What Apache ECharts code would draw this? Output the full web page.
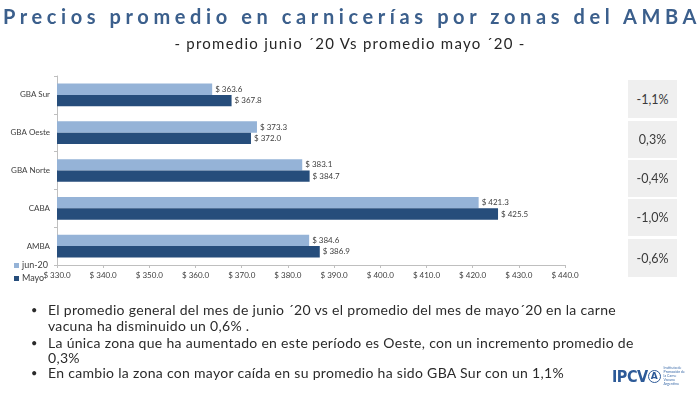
<!DOCTYPE html>
<html><head><meta charset="utf-8">
<script src="https://cdn.jsdelivr.net/npm/echarts@6/dist/echarts.min.js"></script>
<style>
html,body{margin:0;padding:0;background:#fff;}
#wrap{position:relative;width:700px;height:393px;overflow:hidden;font-family:Lato,"Open Sans",sans-serif;}
#chart{position:absolute;left:0;top:0;width:700px;height:393px;}
.t{position:absolute;white-space:nowrap;}
#title{left:2px;width:700px;top:4px;text-align:center;font-size:20px;font-weight:bold;color:#3b5f8c;letter-spacing:4.6px;}
#sub{left:0;width:700px;top:34px;text-align:center;font-size:15px;color:#262626;letter-spacing:1.25px;}
.box{position:absolute;left:628px;width:49px;background:#efefef;color:#3a3a3a;font-size:12.5px;display:flex;align-items:center;justify-content:center;}
.bl{position:absolute;left:48px;font-size:14px;color:#2b2b2b;letter-spacing:0.3px;line-height:16px;}
.dot{position:absolute;left:31px;font-size:11px;color:#2b2b2b;}
#logo{position:absolute;left:612px;top:368px;height:16px;display:flex;align-items:center;}
</style></head>
<body><div id="wrap">
<div id="chart"></div>
<div id="title" class="t"></div>
<div id="sub" class="t"></div>
<div id="boxes"></div>
<div id="bullets"></div>
<div id="logo"><span style="font-family:'Liberation Sans Narrow','DejaVu Sans Condensed',sans-serif;font-weight:bold;font-size:16px;color:#2d5a98;letter-spacing:-0.5px;">IPCV</span><span style="display:inline-block;width:11px;height:11px;border:1.5px solid #2d5a98;border-radius:50%;color:#2d5a98;font-size:9px;font-weight:bold;line-height:11px;text-align:center;margin-left:0px;font-family:'DejaVu Sans',sans-serif;">A</span><span style="font-size:3.5px;color:#3a6aa8;line-height:4px;margin-left:3px;width:24px;white-space:normal;">Instituto de Promoción de la Carne Vacuna Argentina</span></div>
</div>
<script>
const titleText = "Precios promedio en carnicerías por zonas del AMBA";
const subtitleText = "- promedio junio ´20 Vs promedio mayo ´20 -";
const categories = ["AMBA", "CABA", "GBA Norte", "GBA Oeste", "GBA Sur"];
const seriesNames = ["jun-20", "Mayo"];
const jun20 = [384.6, 421.3, 383.1, 373.3, 363.6];
const mayo = [386.9, 425.5, 384.7, 372.0, 367.8];
const changes = ["-1,1%", "0,3%", "-0,4%", "-1,0%", "-0,6%"]; // top to bottom: GBA Sur ... AMBA
const bullets = [
  ["El promedio general del mes de junio ´20 vs el promedio del mes de mayo´20 en la carne", true],
  ["vacuna ha  disminuido un 0,6% .", false],
  ["La única zona que ha aumentado en este período es Oeste, con un incremento promedio de", true],
  ["0,3%", false],
  ["En cambio la zona con mayor caída en su promedio ha sido GBA Sur con un 1,1%", true]
];

document.getElementById('title').textContent = titleText;
document.getElementById('sub').textContent = subtitleText;

const boxTops = [80, 121, 160, 199, 239];
const boxH = [38, 37, 37, 37, 38];
const bx = document.getElementById('boxes');
changes.forEach((c, i) => {
  const d = document.createElement('div');
  d.className = 'box';
  d.style.top = boxTops[i] + 'px';
  d.style.height = boxH[i] + 'px';
  d.textContent = c;
  bx.appendChild(d);
});
const lineY = [302, 318, 335, 350, 365];
const bu = document.getElementById('bullets');
bullets.forEach((b, i) => {
  const d = document.createElement('div');
  d.className = 'bl t';
  d.style.top = lineY[i] + 'px';
  d.textContent = b[0];
  bu.appendChild(d);
  if (b[1]) {
    const s = document.createElement('div');
    s.className = 'dot t';
    s.style.top = (lineY[i] + 1) + 'px';
    s.textContent = '•';
    bu.appendChild(s);
  }
});

const chart = echarts.init(document.getElementById('chart'), null, {renderer: 'canvas'});
const fmt = v => '$ ' + Number(v).toFixed(1);
const lbl = {show: true, position: 'right', distance: 3, fontSize: 8, color: '#404040', fontFamily: 'Lato', formatter: p => fmt(p.value)};
chart.setOption({
  animation: false,
  textStyle: {fontFamily: 'Lato'},
  grid: {left: 57, right: 135, top: 76, bottom: 128, containLabel: false},
  legend: {
    orient: 'vertical', left: 9, top: 256, itemWidth: 5, itemHeight: 5, itemGap: 4,
    icon: 'rect', data: seriesNames,
    textStyle: {fontSize: 9, color: '#404040', padding: [0, 0, 0, -2]}
  },
  xAxis: {
    type: 'value', min: 330, max: 440, interval: 10,
    axisLine: {show: true, lineStyle: {color: '#bfbfbf'}},
    axisTick: {show: true, length: 3, lineStyle: {color: '#bfbfbf'}},
    splitLine: {show: false},
    axisLabel: {fontSize: 8, color: '#404040', margin: 6, formatter: v => fmt(v)}
  },
  yAxis: {
    type: 'category', data: categories,
    axisLine: {show: true, lineStyle: {color: '#bfbfbf'}},
    axisTick: {show: true, length: 3, lineStyle: {color: '#bfbfbf'}},
    axisLabel: {fontSize: 8, color: '#404040', margin: 7}
  },
  series: [
    {name: seriesNames[0], type: 'bar', data: jun20, barWidth: '30%', barGap: '0%', barCategoryGap: '39%',
     itemStyle: {color: '#95b3d7'}, label: lbl},
    {name: seriesNames[1], type: 'bar', data: mayo, barWidth: '30%', barGap: '0%', barCategoryGap: '39%',
     itemStyle: {color: '#264d7b'}, label: lbl}
  ]
});
</script>
</body></html>
